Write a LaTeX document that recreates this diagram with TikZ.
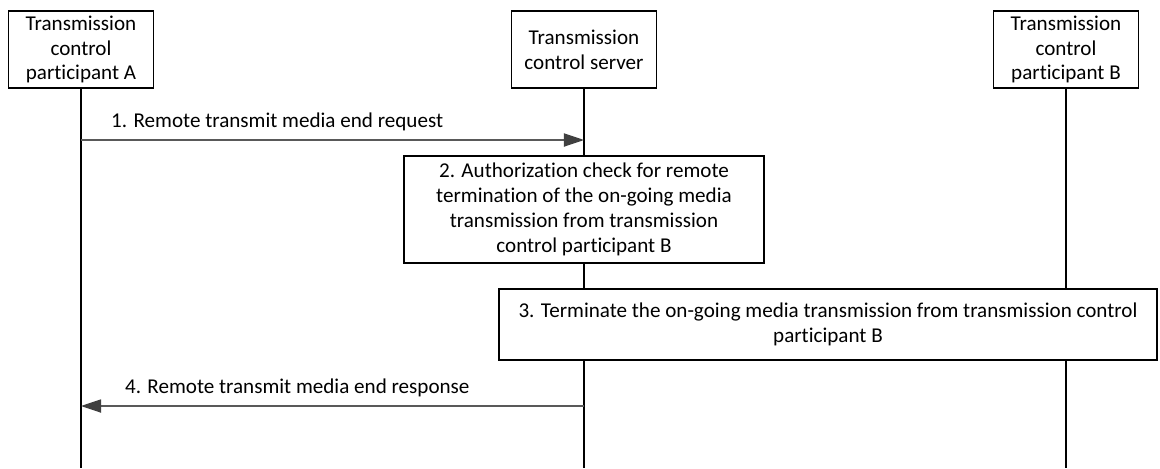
\documentclass[tikz,border=0pt]{standalone}
\usepackage{fontspec}
\setmainfont[Ligatures=NoCommon]{Carlito}
\usetikzlibrary{arrows.meta, positioning}
\definecolor{msgLine}{RGB}{89, 89, 89}
\definecolor{msgHead}{RGB}{64, 64, 64}

\begin{document}
\begin{tikzpicture}[x=0.025cm, y=-0.025cm,
  font=\fontsize{15}{17.7}\selectfont,
  party/.style={draw, line width=0.9pt, align=center,
    minimum width=3.625cm, minimum height=1.925cm, inner sep=0pt},
  actbox/.style={draw, line width=0.9pt, fill=white, align=center, inner sep=0pt},
  lifeline/.style={line width=0.75pt},
  msg/.style={draw=msgLine, line width=0.8pt,
    -{Triangle[length=0.5cm, width=0.33cm, color=msgHead]}}]
  \useasboundingbox (0,0) rectangle (1160,468);

  % Participants and their lifelines
  \foreach \nm/\x/\lab in {pA/81/{Transmission\\control\\participant A},
                           pS/584/{Transmission\\control server},
                           pB/1066/{Transmission\\control\\participant B}} {
    \node[party] (\nm) at (\x, 49.5) {\lab};
    \coordinate (\nm end) at (\x, 468);
    \draw[lifeline] (\nm.south) -- (\nm end);
  }

  % Step boxes on the lifelines
  \node[actbox, minimum width=9cm, minimum height=2.675cm] (chk) at (584, 209.5)
    {2. Authorization check for remote\\termination of the on-going media\\
     transmission from transmission\\control participant B};
  \node[actbox, minimum width=16.45cm, minimum height=1.775cm] (term) at (828, 324.5)
    {3. Terminate the on-going media transmission from transmission control\\participant B};

  % Messages
  \coordinate (m1a) at (81, 140);
  \coordinate (m1b) at (584, 140);
  \coordinate (m4a) at (584, 406);
  \coordinate (m4b) at (81, 406);
  \draw[msg] (m1a) -- node[pos=0.39, above=3pt] {1. Remote transmit media end request} (m1b);
  \draw[msg] (m4a) -- node[pos=0.57, above=3pt] {4. Remote transmit media end response} (m4b);
\end{tikzpicture}
\end{document}
